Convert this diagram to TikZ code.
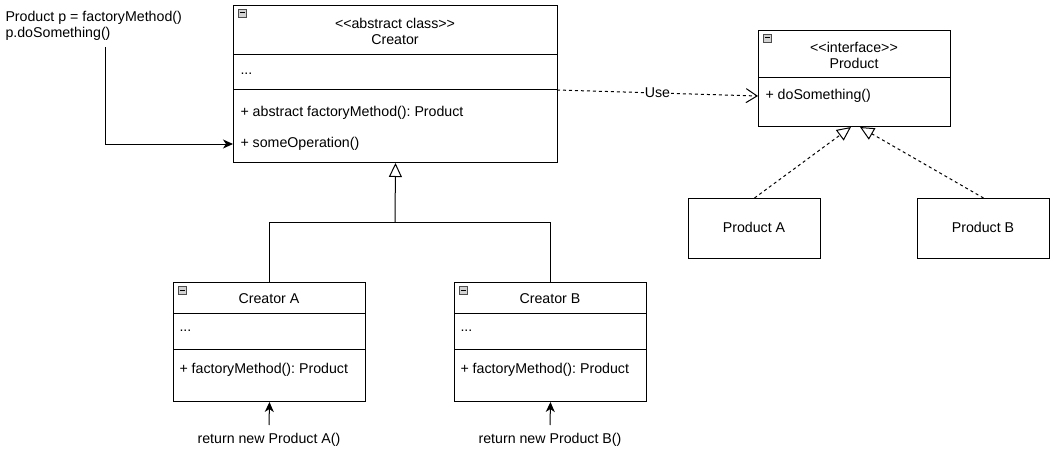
\documentclass[tikz,border=0pt]{standalone}
\usepackage{fontspec}
\setmainfont{Liberation Sans}
\usetikzlibrary{arrows.meta}
\frenchspacing
\begin{document}
\begin{tikzpicture}[x=1pt,y=-1pt,line width=1pt,
  font=\fontsize{14.2}{16}\selectfont\frenchspacing,
  box/.style={draw,rectangle,inner sep=0pt,anchor=north west},
  lbl/.style={inner sep=0pt,anchor=center},
  attr/.style={inner sep=0pt,anchor=west},
  dsh/.style={dash pattern=on 3pt off 3pt},
  openarrow/.style={-{Straight Barb[length=11pt,width=14pt,line width=1pt]}},
  hollow/.style={-{Triangle[open,length=14pt,width=13pt,line width=1pt,fill=white]}},
  solidarrow/.style={-{Stealth[length=10pt,width=9pt,inset=3pt]}},
  icon/.style={draw=gray!60!black,fill=gray!35,line width=0.6pt,inner sep=0pt,minimum size=8pt,anchor=north west}
]
\useasboundingbox (0,0) rectangle (1053,452);

% ---------- Creator ----------
\node[box,minimum width=324pt,minimum height=157pt] (creator) at (233,5) {};
\draw (233,55) -- (557,55);
\draw (233,90) -- (557,90);
\node[icon] (ic1) at (238,9) {};
\draw[line width=1pt] (239.5,13) -- (244.5,13);
\node[lbl] (cst) at (395,23) {<{}<abstract class>{}>};
\node[lbl] (cname) at (395,40) {Creator};
\node[attr] (cdots) at (240,74) {...};
\node[attr] (cfm) at (240,113) {+ abstract factoryMethod(): Product};
\node[attr] (csome) at (240,144) {+ someOperation()};

% ---------- Product interface ----------
\node[box,minimum width=192pt,minimum height=96pt] (prod) at (758,30) {};
\draw (758,78) -- (950,78);
\node[icon] (ic2) at (763,34) {};
\draw[line width=1pt] (764.5,38) -- (769.5,38);
\node[lbl] (pst) at (854,47) {<{}<interface>{}>};
\node[lbl] (pname) at (854,63) {Product};
\node[attr] (pdo) at (765,96) {+ doSomething()};

% ---------- Creator A ----------
\node[box,minimum width=192pt,minimum height=119pt] (ca) at (173,282) {};
\draw (173,313) -- (365,313);
\draw (173,349) -- (365,349);
\node[icon] (ic3) at (178,286) {};
\draw[line width=1pt] (179.5,290) -- (184.5,290);
\node[lbl] (caname) at (269,299) {Creator A};
\node[attr] (cadots) at (179,331) {...};
\node[attr] (cafm) at (179,370) {+ factoryMethod(): Product};

% ---------- Creator B ----------
\node[box,minimum width=192pt,minimum height=119pt] (cb) at (454,282) {};
\draw (454,313) -- (646,313);
\draw (454,349) -- (646,349);
\node[icon] (ic4) at (459,286) {};
\draw[line width=1pt] (460.5,290) -- (465.5,290);
\node[lbl] (cbname) at (550,299) {Creator B};
\node[attr] (cbdots) at (460,331) {...};
\node[attr] (cbfm) at (460,370) {+ factoryMethod(): Product};

% ---------- Product A / B ----------
\node[box,minimum width=132pt,minimum height=60pt] (pa) at (688,198) {};
\node[lbl] (paname) at (754,227) {Product A};
\node[box,minimum width=132pt,minimum height=60pt] (pb) at (917,198) {};
\node[lbl] (pbname) at (983,227) {Product B};

% ---------- Note text ----------
\node[inner sep=0pt,anchor=north west,align=left] (note) at (5,11)
  {Product p = factoryMethod()\\p.doSomething()};
\coordinate (noteout) at (105,47);
\draw[solidarrow] (noteout) |- (csome.west -| creator.west);

% ---------- return texts ----------
\node[lbl] (retA) at (269,440) {return new Product A()};
\node[lbl] (retB) at (550,440) {return new Product B()};
\coordinate (retAtop) at (269,425);
\coordinate (retBtop) at (550,425);
\draw[solidarrow] (retAtop) -- (ca.south);
\draw[solidarrow] (retBtop) -- (cb.south);

% ---------- inheritance ----------
\coordinate (join) at (395,222);
\draw (ca.north) |- (join);
\draw (cb.north) |- (join);
\draw[hollow] (join) -- (creator.south);

% ---------- use dependency ----------
\coordinate (useS) at (557,90);
\draw[dsh,openarrow] (useS) -- (pdo.west -| prod.west)
  node[midway,fill=white,inner sep=1pt] (uselbl) {Use};

% ---------- realization ----------
\coordinate (tipA) at (851,127);
\coordinate (tipB) at (860,127);
\draw[dsh,hollow] (pa.north) -- (tipA);
\draw[dsh,hollow] (pb.north) -- (tipB);
\end{tikzpicture}
\end{document}
